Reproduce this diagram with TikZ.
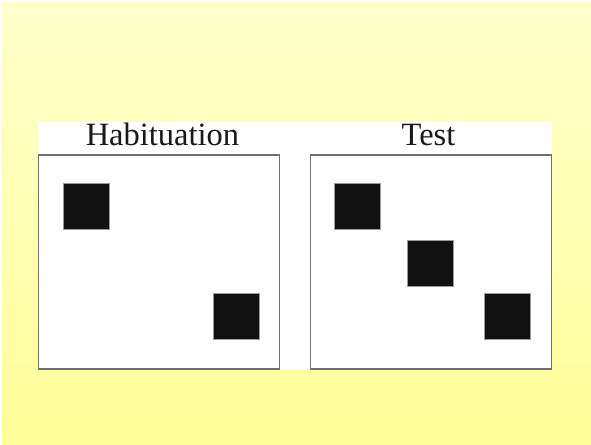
\documentclass[tikz,border=0pt]{standalone}
\usepackage{fontspec}
\setmainfont{Liberation Serif}
\usetikzlibrary{positioning}
\definecolor{bgtop}{HTML}{FFFFCC}
\definecolor{bgbot}{HTML}{FFFF99}
\definecolor{cframe}{HTML}{707070}
\definecolor{cblot}{HTML}{111111}
\tikzset{
  panel/.style={draw=cframe, line width=1.4pt, fill=white, minimum width=241pt, minimum height=214pt, inner sep=0pt},
  blob/.style={draw=cframe!70, line width=0.5pt, fill=cblot, minimum size=46pt, inner sep=0pt},
  caption/.style={font=\fontsize{32.5}{32.5}\selectfont, text=black!90, inner sep=0pt, anchor=base},
}
\begin{document}
\begin{tikzpicture}[x=1pt, y=-1pt]
  \useasboundingbox (0,0) rectangle (591,444);
  \shade[top color=bgtop, bottom color=bgbot] (2,3) rectangle (591,444);
  \fill[white] (38,122) rectangle (552,370);
  % the two displays
  \node[panel] (hab) at (159.25,262) {};
  \node[panel] (test) at (431,262) {};
  \node[caption] (habtitle) at (162.5,145) {Habituation};
  \node[caption] (testtitle) at (428.5,145) {Test};
  % habituation: two squares
  \node[blob] (h1) at (86,206) {};
  \node[blob] (h2) at (236,316) {};
  % test: three squares
  \node[blob] (t1) at (357.5,206) {};
  \node[blob] (t2) at (430,263) {};
  \node[blob] (t3) at (507.5,316) {};
\end{tikzpicture}
\end{document}
